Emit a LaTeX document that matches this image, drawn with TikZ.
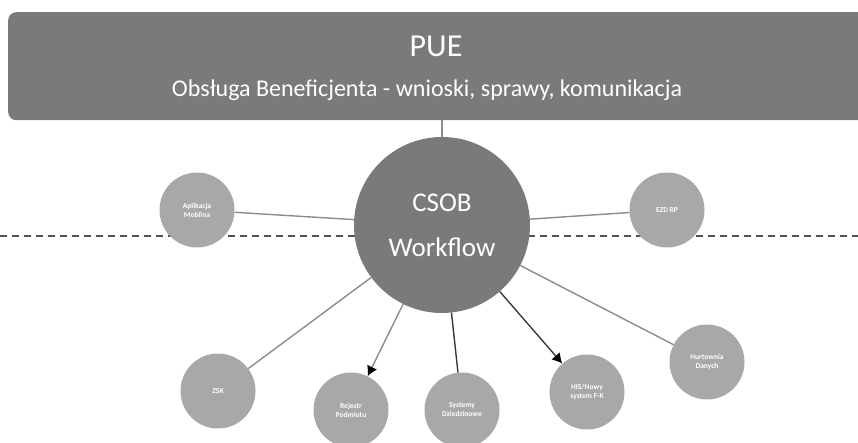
\documentclass[tikz,border=0pt]{standalone}
\usepackage{fontspec}
\setmainfont{Carlito}
\usepackage{tikz}
\usetikzlibrary{arrows.meta,positioning}
\definecolor{ciemnySzary}{HTML}{7A7A7A}
\definecolor{jasnySzary}{HTML}{A8A8A8}
\definecolor{liniaSzara}{HTML}{8C8C8C}
\definecolor{liniaCiemna}{HTML}{3A3A3A}
\definecolor{kreska}{HTML}{505050}

\begin{document}
\begin{tikzpicture}[x=1pt,y=-1pt,
  kolo/.style={circle,fill=jasnySzary,minimum size=75pt,inner sep=0pt,
               align=center,text=white,font=\fontsize{7.5}{9}\selectfont\bfseries},
  laczenie/.style={line width=1.4pt,liniaSzara},
  laczenieCiemne/.style={line width=1.4pt,liniaCiemna},
  grot/.style={-{Latex[length=10pt,width=11pt,color=black]}}]
\useasboundingbox (0,0) rectangle (858,443);
\draw[kreska,line width=1.2pt,dash pattern=on 7pt off 5pt] (0,236) -- (858,236);
\node[fill=ciemnySzary,rounded corners=8pt,minimum width=866pt,minimum height=108pt,
      anchor=north west] (pue) at (8,12) {};
\node[text=white,font=\fontsize{32}{36}\selectfont] (pueNazwa) at (436,46) {PUE};
\node[text=white,font=\fontsize{24}{28}\selectfont] (pueOpis) at (427,90)
  {Obsługa Beneficjenta - wnioski, sprawy, komunikacja};
\node[circle,fill=ciemnySzary,minimum size=176pt,inner sep=0pt,align=center,
      text=white,font=\fontsize{27}{45}\selectfont] (csob) at (442,225) {CSOB\\Workflow};
\draw[laczenie] (csob.north) -- (csob.north |- pue.south);
% systemy dookola
\node[kolo] (aplikacja) at (197,210) {Aplikacja\\Mobilna};
\node[kolo] (ezd) at (667,210) {EZD RP};
\node[kolo] (zsk) at (218,391) {ZSK};
\node[kolo] (rejestr) at (351,410) {Rejestr\\Podmiotu};
\node[kolo] (systemy) at (462,410) {Systemy\\Dziedzinowe};
\node[kolo] (his) at (587,392) {HIS/Nowy\\system F-K};
\node[kolo] (hurtownia) at (707,362) {Hurtownia\\Danych};
\foreach \cel in {aplikacja,ezd,zsk,hurtownia} \draw[laczenie] (csob) -- (\cel);
\draw[laczenieCiemne] (csob) -- (systemy);
\draw[laczenie,grot] (csob) -- (rejestr);
\draw[laczenieCiemne,grot] (csob) -- (his);
\end{tikzpicture}
\end{document}
